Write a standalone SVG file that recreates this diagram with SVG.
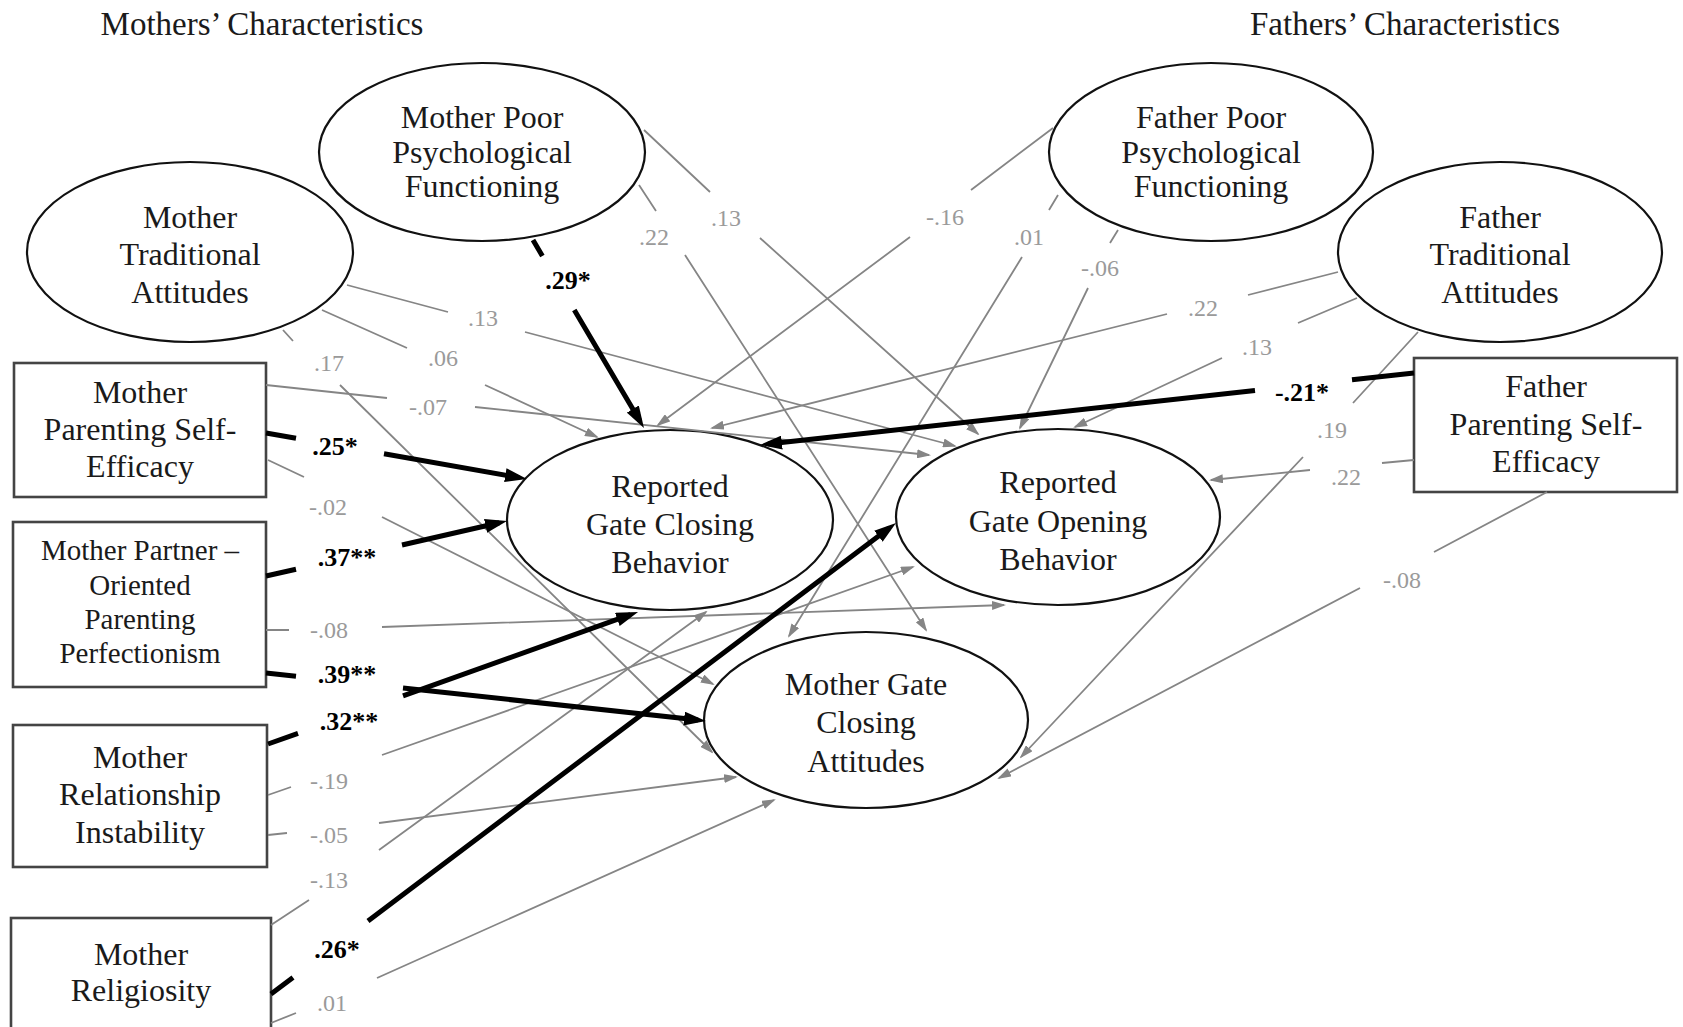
<svg xmlns="http://www.w3.org/2000/svg" width="1683" height="1027" viewBox="0 0 1683 1027">
<defs>
<style>
.title{font-family:"Liberation Serif",serif;font-size:33px;fill:#1a1a1a;text-anchor:middle}
.nl{font-family:"Liberation Serif",serif;font-size:32px;fill:#1a1a1a;text-anchor:middle}
.nls{font-family:"Liberation Serif",serif;font-size:29px;fill:#1a1a1a;text-anchor:middle}
.ell{fill:#fff;stroke:#111;stroke-width:2.2}
.box{fill:#fff;stroke:#444;stroke-width:2.6}
.g{fill:none;stroke:#858585;stroke-width:1.8;marker-end:url(#ag)}
.b{fill:none;stroke:#000;stroke-width:5;marker-end:url(#ab)}
.gl{font-family:"Liberation Serif",serif;font-size:24px;fill:#9a9a9a;text-anchor:middle}
.bl{font-family:"Liberation Serif",serif;font-size:26px;font-weight:bold;fill:#000;text-anchor:middle}
</style>
<marker id="ag" viewBox="0 0 14 9" refX="12" refY="4.5" markerWidth="14" markerHeight="9" markerUnits="userSpaceOnUse" orient="auto"><path d="M0,0 L14,4.5 L0,9 z" fill="#858585"/></marker>
<marker id="ab" viewBox="0 0 22 14" refX="14" refY="7" markerWidth="22" markerHeight="14" markerUnits="userSpaceOnUse" orient="auto"><path d="M0,0 L22,7 L0,14 z" fill="#000"/></marker>
</defs>
<rect width="1683" height="1027" fill="#fff"/>

<text class="title" x="262" y="35">Mothers’ Characteristics</text>
<text class="title" x="1405" y="35">Fathers’ Characteristics</text>

<g id="mother-poor-psych">
<ellipse class="ell" cx="482" cy="152" rx="163" ry="89"/>
<text class="nl" x="482" y="128">Mother Poor</text>
<text class="nl" x="482" y="163">Psychological</text>
<text class="nl" x="482" y="197">Functioning</text>
</g>
<g id="mother-traditional">
<ellipse class="ell" cx="190" cy="252" rx="163" ry="90"/>
<text class="nl" x="190" y="228">Mother</text>
<text class="nl" x="190" y="265">Traditional</text>
<text class="nl" x="190" y="303">Attitudes</text>
</g>
<g id="father-poor-psych">
<ellipse class="ell" cx="1211" cy="152" rx="162" ry="89"/>
<text class="nl" x="1211" y="128">Father Poor</text>
<text class="nl" x="1211" y="163">Psychological</text>
<text class="nl" x="1211" y="197">Functioning</text>
</g>
<g id="father-traditional">
<ellipse class="ell" cx="1500" cy="252" rx="162" ry="90"/>
<text class="nl" x="1500" y="228">Father</text>
<text class="nl" x="1500" y="265">Traditional</text>
<text class="nl" x="1500" y="303">Attitudes</text>
</g>
<g id="reported-gate-closing">
<ellipse class="ell" cx="670" cy="520" rx="163" ry="90"/>
<text class="nl" x="670" y="497">Reported</text>
<text class="nl" x="670" y="535">Gate Closing</text>
<text class="nl" x="670" y="573">Behavior</text>
</g>
<g id="reported-gate-opening">
<ellipse class="ell" cx="1058" cy="517" rx="162" ry="88"/>
<text class="nl" x="1058" y="493">Reported</text>
<text class="nl" x="1058" y="532">Gate Opening</text>
<text class="nl" x="1058" y="570">Behavior</text>
</g>
<g id="mother-gate-closing-attitudes">
<ellipse class="ell" cx="866" cy="720" rx="162" ry="88"/>
<text class="nl" x="866" y="695">Mother Gate</text>
<text class="nl" x="866" y="733">Closing</text>
<text class="nl" x="866" y="772">Attitudes</text>
</g>
<g id="mother-self-efficacy">
<rect class="box" x="14" y="363" width="252" height="134"/>
<text class="nl" x="140" y="403">Mother</text>
<text class="nl" x="140" y="440">Parenting Self-</text>
<text class="nl" x="140" y="477">Efficacy</text>
</g>
<g id="mother-perfectionism">
<rect class="box" x="13" y="522" width="253" height="165"/>
<text class="nls" x="140" y="560">Mother Partner –</text>
<text class="nls" x="140" y="595">Oriented</text>
<text class="nls" x="140" y="629">Parenting</text>
<text class="nls" x="140" y="663">Perfectionism</text>
</g>
<g id="mother-relationship-instability">
<rect class="box" x="13" y="725" width="254" height="142"/>
<text class="nl" x="140" y="768">Mother</text>
<text class="nl" x="140" y="805">Relationship</text>
<text class="nl" x="140" y="843">Instability</text>
</g>
<g id="mother-religiosity">
<rect class="box" x="11" y="918" width="260" height="120"/>
<text class="nl" x="141" y="965">Mother</text>
<text class="nl" x="141" y="1001">Religiosity</text>
</g>
<g id="father-self-efficacy">
<rect class="box" x="1414" y="358" width="263" height="134"/>
<text class="nl" x="1546" y="397">Father</text>
<text class="nl" x="1546" y="435">Parenting Self-</text>
<text class="nl" x="1546" y="472">Efficacy</text>
</g>

<g id="connectors">
<path class="g" d="M639,185 L656,211 M685,255 L926,630"/>
<path class="g" d="M644,130 L710,192 M760,238 L978,434"/>
<path class="g" d="M1053,128 L971,190 M910,237 L658,425"/>
<path class="g" d="M1058,195 L1049,210 M1022,257 L789,636"/>
<path class="g" d="M1118,230 L1110,243 M1088,288 L1020,428"/>
<path class="g" d="M1338,272 L1248,295 M1167,314 L712,428"/>
<path class="g" d="M1357,298 L1298,323 M1222,358 L1075,427"/>
<path class="g" d="M1418,332 L1353,403 M1303,457 L1021,757"/>
<path class="g" d="M1414,460 L1382,463 M1310,470 L1211,480"/>
<path class="g" d="M1547,492 L1434,552 M1360,588 L999,778"/>
<path class="g" d="M347,285 L448,312 M525,332 L955,446"/>
<path class="g" d="M322,310 L407,348 M485,385 L597,437"/>
<path class="g" d="M283,330 L293,341 M340,385 L712,752"/>
<path class="g" d="M266,385 L387,398 M475,407 L929,455"/>
<path class="g" d="M268,460 L304,477 M382,517 L713,684"/>
<path class="g" d="M266,630 L289,630 M382,627 L1004,605"/>
<path class="g" d="M268,795 L291,787 M382,755 L913,567"/>
<path class="g" d="M268,835 L287,833 M379,823 L736,777"/>
<path class="g" d="M271,925 L309,900 M379,850 L706,612"/>
<path class="g" d="M271,1023 L296,1013 M377,978 L774,800"/>

<path class="b" d="M533,240 L542.4,256 M574.3,310 L639.9,421.1"/>
<path class="b" d="M266,433 L296,438.3 M384,453.8 L519.1,477.6"/>
<path class="b" d="M266,576 L296,569.2 M402,545 L499.2,522.8"/>
<path class="b" d="M266,673 L296,676.3 M403,687.9 L698,720.1"/>
<path class="b" d="M268,744 L298,733.3 M403,695.8 L630.5,614.7"/>
<path class="b" d="M271,994 L293,977.4 M368,920.9 L889.6,527.8"/>
<path class="b" d="M1414,373 L1352,379.8 M1255,390.5 L768,444.1"/>

<g id="path-labels">
<text class="gl" x="654" y="245">.22</text>
<text class="gl" x="726" y="226">.13</text>
<text class="gl" x="945" y="225">-.16</text>
<text class="gl" x="1029" y="245">.01</text>
<text class="gl" x="1100" y="276">-.06</text>
<text class="gl" x="1203" y="316">.22</text>
<text class="gl" x="1257" y="355">.13</text>
<text class="gl" x="1332" y="438">.19</text>
<text class="gl" x="1346" y="485">.22</text>
<text class="gl" x="1402" y="588">-.08</text>
<text class="gl" x="483" y="326">.13</text>
<text class="gl" x="443" y="366">.06</text>
<text class="gl" x="329" y="371">.17</text>
<text class="gl" x="428" y="415">-.07</text>
<text class="gl" x="328" y="515">-.02</text>
<text class="gl" x="329" y="638">-.08</text>
<text class="gl" x="329" y="789">-.19</text>
<text class="gl" x="329" y="843">-.05</text>
<text class="gl" x="329" y="888">-.13</text>
<text class="gl" x="332" y="1011">.01</text>
<text class="bl" x="568" y="289">.29*</text>
<text class="bl" x="335" y="455">.25*</text>
<text class="bl" x="347" y="566">.37**</text>
<text class="bl" x="347" y="683">.39**</text>
<text class="bl" x="349" y="730">.32**</text>
<text class="bl" x="337" y="958">.26*</text>
<text class="bl" x="1302" y="401">-.21*</text>
</g>
</g>
</svg>
